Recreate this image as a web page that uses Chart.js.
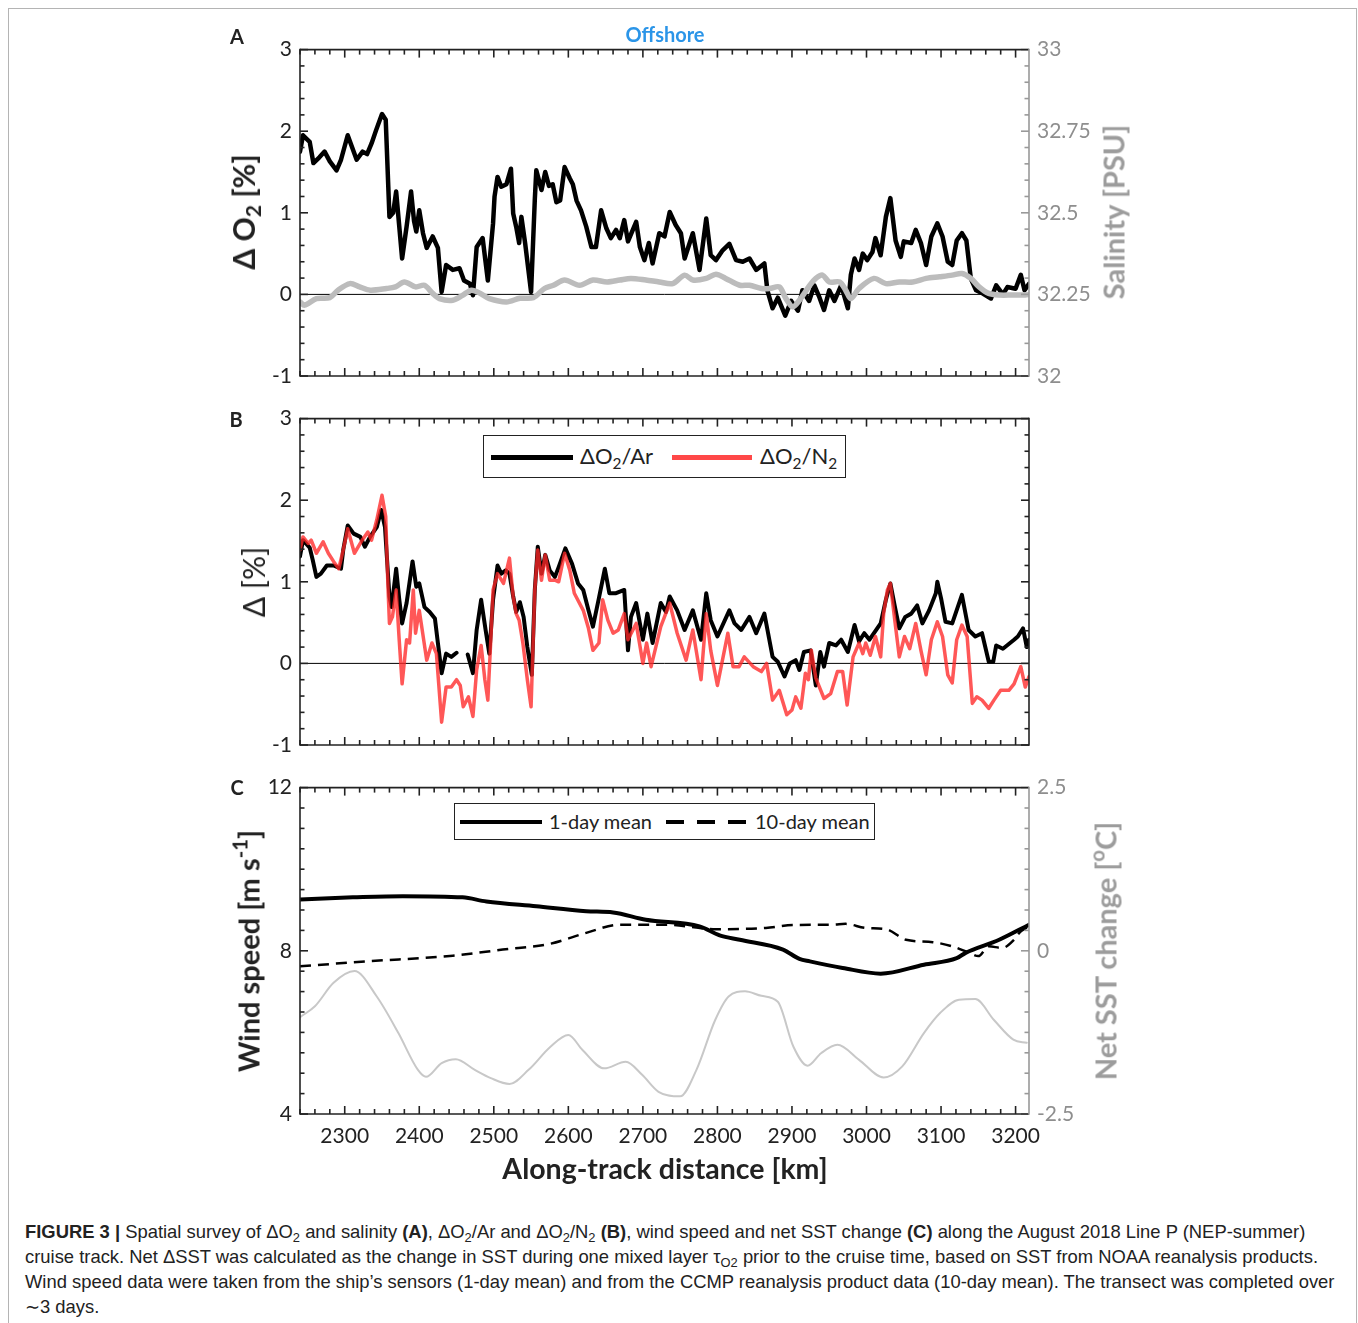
<!DOCTYPE html>
<html>
<head>
<meta charset="utf-8">
<script src="https://cdn.jsdelivr.net/npm/chart.js@4.4.1/dist/chart.umd.min.js"></script>
<style>
  body { margin: 0; width: 1358px; height: 1323px; background: #fff; position: relative; overflow: hidden; font-family: Lato, "DejaVu Sans", sans-serif; color: #222; }
  canvas { position: absolute; }
  .frame { position: absolute; left: 8px; top: 8px; width: 1347px; height: 1340px; border: 1px solid #b4b4b4; }
  .txt { position: absolute; white-space: nowrap; transform: translate(-50%, -50%); }
  .ytitle { position: absolute; white-space: nowrap; transform: translate(-50%, -50%) rotate(-90deg); font-weight: 700; font-size: 29px; }
  .letter { font-weight: 700; font-size: 20px; }
  sub, sup { font-size: 0.7em; line-height: 0; }
  sub { vertical-align: -0.3em; }
  sup { vertical-align: 0.6em; }
  .legend { position: absolute; background: #fff; border: 1.5px solid #222; box-sizing: border-box; z-index: 5; font-size: 22px; }
  .legend .s { position: absolute; }
  .legend .t { position: absolute; white-space: nowrap; top: 50%; transform: translateY(-55%); }
  .caption { position: absolute; left: 25px; top: 1219px; font-family: "Liberation Sans", Arial, sans-serif; font-size: 18.4px; line-height: 25px; color: #222; }
  .caption div { white-space: nowrap; }
</style>
</head>
<body>
<div class="frame"></div>

<canvas id="chartA" width="960" height="368" style="left:200px; top:29px;"></canvas>
<canvas id="chartB" width="960" height="368" style="left:200px; top:398px;"></canvas>
<canvas id="chartC" width="960" height="393" style="left:200px; top:767px;"></canvas>

<!-- panel letters and titles -->
<div class="txt letter" style="left:237px; top:36px;">A</div>
<div class="txt letter" style="left:236px; top:419px;">B</div>
<div class="txt letter" style="left:237px; top:787px;">C</div>
<div class="txt" style="left:665px; top:34px; font-weight:700; font-size:20px; color:#2b95e8;">Offshore</div>

<div class="ytitle" style="left:243px; top:212px; font-size:30px;">Δ O<sub>2</sub> [%]</div>
<div class="ytitle" style="left:1113px; top:212px; color:#9c9c9c;">Salinity [PSU]</div>
<div class="ytitle" style="left:253px; top:582px; font-weight:400; font-size:30px;">Δ [%]</div>
<div class="ytitle" style="left:248px; top:951px;">Wind speed [m s<sup>-1</sup>]</div>
<div class="ytitle" style="left:1105px; top:951px; color:#9c9c9c;">Net SST change [<sup>o</sup>C]</div>
<div class="txt" style="left:665px; top:1168px; font-weight:700; font-size:28.5px;">Along-track distance [km]</div>

<!-- legends -->
<div class="legend" style="left:483px; top:435px; width:363px; height:43px;">
  <span class="s" style="left:7px; top:19px; width:82px; height:5px; background:#000;"></span>
  <span class="t" style="left:96px;">ΔO<sub>2</sub>/Ar</span>
  <span class="s" style="left:188px; top:19px; width:80px; height:5px; background:#ff4848;"></span>
  <span class="t" style="left:276px;">ΔO<sub>2</sub>/N<sub>2</sub></span>
</div>
<div class="legend" style="left:454px; top:803px; width:421px; height:37px; font-size:20px;">
  <span class="s" style="left:5px; top:16px; width:82px; height:4px; background:#000;"></span>
  <span class="t" style="left:94px;">1-day mean</span>
  <span class="s" style="left:211px; top:16px; width:80px; height:4px; background:repeating-linear-gradient(to right, #000 0 18px, transparent 18px 31px);"></span>
  <span class="t" style="left:300px;">10-day mean</span>
</div>

<div class="caption">
  <div><b>FIGURE 3 |</b> Spatial survey of ΔO<sub>2</sub> and salinity <b>(A)</b>, ΔO<sub>2</sub>/Ar and ΔO<sub>2</sub>/N<sub>2</sub> <b>(B)</b>, wind speed and net SST change <b>(C)</b> along the August 2018 Line P (NEP-summer)</div>
  <div>cruise track. Net ΔSST was calculated as the change in SST during one mixed layer τ<sub>O2</sub> prior to the cruise time, based on SST from NOAA reanalysis products.</div>
  <div>Wind speed data were taken from the ship’s sensors (1-day mean) and from the CCMP reanalysis product data (10-day mean). The transect was completed over</div>
  <div>∼3 days.</div>
</div>

<script>
// --- axes ---
const xMin = 2240, xMax = 3218;
const xTickLabels = [2300, 2400, 2500, 2600, 2700, 2800, 2900, 3000, 3100, 3200];
const deltaTicks = [-1, 0, 1, 2, 3];
const salinityTicks = [32, 32.25, 32.5, 32.75, 33];
const windTicks = [4, 8, 12];
const sstTicks = [-2.5, 0, 2.5];

// --- panel A: delta O2 (%) and salinity ---
const kmO2 = [2240,2244,2253,2258,2266,2273,2280,2289,2295,2304,2310,2316,2324,2330,2336,2342,2350,2355,2360,2365,
  2369,2373,2377,2383,2389,2393,2396,2400,2405,2410,2418,2425,2430,2436,2445,2454,2460,2468,2472,2477,
  2485,2492,2499,2501,2505,2510,2517,2523,2526,2530,2534,2537,2542,2550,2555,2557,2564,2569,2574,2579,
  2584,2589,2595,2602,2606,2611,2617,2624,2631,2637,2644,2651,2657,2664,2669,2675,2680,2691,2696,2702,
  2708,2713,2722,2729,2736,2744,2751,2756,2767,2776,2785,2791,2798,2807,2816,2825,2834,2843,2852,2863,
  2867,2874,2881,2891,2899,2908,2914,2923,2930,2937,2943,2950,2957,2966,2975,2979,2984,2990,2995,3001,
  3008,3012,3019,3026,3032,3039,3046,3050,3060,3066,3073,3080,3087,3095,3102,3109,3115,3121,3128,3134,
  3140,3147,3156,3167,3174,3183,3189,3200,3207,3212,3218];
const deltaO2 = [1.75,1.95,1.87,1.61,1.68,1.75,1.63,1.52,1.65,1.95,1.80,1.65,1.75,1.72,1.85,2.01,2.21,2.14,0.95,1.00,
  1.26,0.85,0.44,0.83,1.26,0.90,0.77,1.03,0.75,0.57,0.71,0.57,0.03,0.36,0.30,0.32,0.17,0.13,-0.01,0.58,
  0.69,0.17,0.87,1.20,1.44,1.32,1.35,1.54,0.99,0.83,0.63,0.95,0.63,0.03,1.16,1.52,1.28,1.50,1.33,1.35,
  1.13,1.15,1.56,1.42,1.35,1.15,1.03,0.83,0.58,0.58,1.03,0.81,0.69,0.79,0.69,0.91,0.65,0.89,0.58,0.42,
  0.63,0.38,0.75,0.71,1.01,0.85,0.75,0.44,0.75,0.30,0.93,0.48,0.42,0.54,0.62,0.42,0.40,0.44,0.30,0.38,
  0.05,-0.17,-0.04,-0.26,-0.08,-0.20,0.05,-0.08,0.11,-0.04,-0.19,0.05,-0.08,0.11,-0.17,0.24,0.44,0.30,0.50,0.42,
  0.52,0.69,0.48,0.95,1.18,0.66,0.46,0.65,0.63,0.79,0.63,0.36,0.71,0.87,0.71,0.40,0.36,0.66,0.75,0.66,
  0.19,0.05,0.01,-0.05,0.11,0.00,0.09,0.07,0.24,0.05,0.13];

const kmSal = [2240,2246,2262,2280,2291,2307,2320,2334,2356,2368,2380,2395,2407,2418,2427,2445,2458,2470,2482,2494,
  2517,2535,2553,2568,2580,2595,2615,2633,2652,2669,2684,2704,2722,2740,2756,2767,2785,2798,2811,2830,
  2843,2859,2870,2883,2892,2901,2910,2924,2932,2941,2950,2964,2972,2979,2990,3010,3026,3044,3062,3080,
  3098,3115,3128,3140,3151,3164,3178,3196,3213,3218];
const salinity = [32.227,32.217,32.237,32.240,32.263,32.283,32.273,32.263,32.268,32.273,32.288,32.273,32.278,32.253,32.237,32.232,32.247,32.263,32.253,32.237,
  32.227,32.238,32.240,32.268,32.278,32.294,32.278,32.294,32.288,32.294,32.299,32.294,32.288,32.283,32.309,32.294,32.299,32.312,32.299,32.278,
  32.278,32.268,32.268,32.273,32.237,32.212,32.232,32.278,32.299,32.309,32.288,32.288,32.263,32.237,32.268,32.299,32.283,32.288,32.288,32.299,
  32.304,32.309,32.314,32.299,32.273,32.253,32.248,32.248,32.248,32.250];

// --- panel B: delta O2/Ar and delta O2/N2 (%) ---
const kmAr = [2240,2244,2253,2257,2262,2268,2276,2285,2295,2298,2304,2312,2321,2327,2334,2343,2349,2354,2358,2360,
  2363,2369,2373,2377,2383,2391,2396,2400,2407,2414,2421,2425,2430,2436,2443,2450,2458,2465,2472,2477,
  2483,2489,2494,2499,2505,2510,2516,2521,2526,2530,2535,2540,2545,2551,2555,2559,2564,2569,2575,2582,
  2587,2596,2605,2613,2620,2627,2633,2641,2649,2655,2664,2675,2680,2684,2691,2700,2706,2713,2724,2731,
  2736,2746,2756,2767,2778,2785,2791,2800,2816,2823,2832,2843,2852,2863,2874,2881,2890,2897,2905,2910,
  2916,2925,2932,2938,2943,2950,2959,2966,2975,2984,2990,2997,3004,3013,3019,3026,3032,3038,3044,3052,
  3060,3068,3075,3084,3093,3095,3100,3106,3115,3128,3137,3146,3155,3164,3170,3174,3183,3198,3203,3210,
  3215,3218];
const deltaO2Ar = [1.31,1.51,1.42,1.27,1.06,1.10,1.20,1.20,1.16,1.39,1.69,1.59,1.55,1.43,1.55,1.67,1.88,1.67,1.10,0.82,
  0.69,1.16,0.80,0.49,0.74,1.25,0.94,0.98,0.69,0.63,0.55,0.25,-0.12,0.12,0.08,0.13,null,0.11,-0.12,0.41,
  0.78,0.41,0.12,0.78,1.20,1.10,1.14,1.10,0.82,0.63,0.75,0.57,0.20,-0.14,0.90,1.43,1.10,1.33,1.14,1.06,
  1.18,1.41,1.22,0.98,0.90,0.65,0.45,0.80,1.16,0.86,0.86,0.90,0.16,0.57,0.74,0.29,0.61,0.25,0.74,0.63,
  0.82,0.65,0.41,0.65,0.29,0.86,0.53,0.33,0.65,0.49,0.41,0.57,0.37,0.61,0.08,0.02,-0.16,0.00,0.04,-0.08,
  0.14,0.16,-0.27,0.14,-0.04,0.25,0.22,0.29,0.14,0.47,0.27,0.37,0.29,0.41,0.49,0.78,0.98,0.70,0.43,0.57,
  0.61,0.71,0.49,0.65,0.86,1.00,0.80,0.51,0.49,0.84,0.41,0.33,0.37,0.02,0.02,0.22,0.18,0.29,0.33,0.43,
  0.20,0.29];

const kmN2 = [2240,2244,2251,2255,2262,2271,2278,2285,2292,2298,2304,2313,2322,2331,2336,2343,2350,2355,2358,2360,
  2364,2369,2373,2377,2383,2387,2392,2395,2400,2410,2417,2423,2430,2436,2443,2450,2455,2459,2466,2472,
  2477,2483,2488,2492,2496,2499,2505,2513,2521,2526,2530,2534,2539,2545,2550,2555,2559,2564,2569,2575,
  2582,2587,2595,2602,2608,2620,2627,2633,2641,2646,2653,2660,2667,2675,2680,2691,2700,2705,2711,2724,
  2736,2746,2758,2767,2778,2785,2791,2800,2814,2821,2829,2836,2848,2859,2866,2874,2883,2887,2893,2900,
  2905,2912,2918,2922,2926,2932,2943,2952,2961,2968,2974,2982,2990,2995,2999,3005,3012,3019,3023,3028,
  3032,3039,3044,3051,3058,3066,3073,3080,3087,3095,3102,3109,3115,3121,3128,3135,3142,3148,3155,3164,
  3171,3180,3191,3198,3207,3213,3218];
const deltaO2N2 = [1.39,1.55,1.47,1.51,1.35,1.49,1.35,1.25,1.16,1.39,1.65,1.35,1.49,1.61,1.51,1.76,2.06,1.80,0.94,0.49,
  0.57,0.90,0.30,-0.25,0.29,0.25,0.90,0.37,0.65,0.04,0.25,0.12,-0.72,-0.29,-0.29,-0.20,-0.27,-0.53,-0.41,-0.65,
  -0.08,0.22,-0.20,-0.45,0.29,0.90,1.10,0.98,1.29,0.82,0.61,0.53,0.25,-0.20,-0.53,0.90,1.39,1.02,1.33,1.02,
  1.02,1.00,1.35,1.14,0.86,0.65,0.43,0.16,0.25,0.78,0.53,0.37,0.41,0.61,0.29,0.49,0.00,0.25,-0.04,0.45,
  0.74,0.37,0.04,0.41,-0.20,0.61,0.16,-0.27,0.37,-0.04,-0.04,0.08,-0.04,-0.10,0.00,-0.45,-0.33,-0.45,-0.63,-0.57,
  -0.41,-0.55,-0.12,-0.20,0.16,-0.18,-0.43,-0.37,-0.10,-0.10,-0.51,0.08,0.25,0.12,0.25,0.10,0.33,0.08,0.61,0.90,
  0.98,0.45,0.08,0.33,0.18,0.49,0.16,-0.14,0.29,0.51,0.33,-0.14,-0.24,0.29,0.47,0.33,-0.49,-0.41,-0.45,-0.55,
  -0.45,-0.33,-0.33,-0.25,-0.04,-0.29,-0.16];

// --- panel C: wind speed (m/s) and net SST change (degC) ---
const kmWind1 = [2240,2311,2378,2458,2490,2557,2624,2660,2704,2776,2803,2830,2888,2910,2924,2968,3019,3077,3121,3133,3178,3218];
const wind1day = [9.26,9.31,9.34,9.31,9.21,9.09,8.97,8.94,8.76,8.60,8.38,8.27,8.03,7.80,7.74,7.58,7.44,7.66,7.82,7.95,8.27,8.64];
const kmWind10 = [2240,2329,2445,2512,2575,2624,2669,2731,2798,2865,2901,2955,2972,2999,3026,3053,3089,3115,3138,3150,3164,3182,3198,3205,3218];
const wind10day = [7.62,7.74,7.88,8.03,8.17,8.44,8.64,8.64,8.53,8.56,8.63,8.64,8.66,8.56,8.53,8.27,8.21,8.11,7.95,7.87,8.11,8.07,8.27,8.44,8.60];
const kmSST = [2241,2260,2285,2313,2343,2372,2398,2409,2430,2449,2474,2496,2521,2547,2576,2600,2619,2648,2677,2699,
  2721,2750,2772,2797,2815,2837,2859,2881,2902,2921,2939,2961,2990,3023,3048,3077,3099,3124,3146,3171,3197,3215];
const sstChange = [-1.01,-0.85,-0.49,-0.31,-0.70,-1.26,-1.82,-1.93,-1.72,-1.66,-1.82,-1.95,-2.04,-1.82,-1.47,-1.29,-1.52,-1.80,-1.70,-1.90,
  -2.16,-2.23,-1.82,-1.06,-0.70,-0.62,-0.69,-0.78,-1.47,-1.76,-1.57,-1.44,-1.67,-1.94,-1.77,-1.26,-0.95,-0.75,-0.74,-1.06,-1.36,-1.41];

function pts(xs, ys) {
  return xs.map((x, i) => ({ x: x, y: ys[i] }));
}

Chart.defaults.font.family = 'Lato, "DejaVu Sans", sans-serif';
Chart.defaults.font.size = 21;
Chart.defaults.color = '#222';

// frame and inward tick marks (MATLAB style box)
const frameTicks = {
  id: 'frameTicks',
  afterDatasetsDraw(chart, args, o) {
    const ctx = chart.ctx, a = chart.chartArea;
    const x = chart.scales.x, y = chart.scales.y, y2 = chart.scales.y2;
    ctx.save();
    ctx.lineWidth = 1.6;
    function seg(x1, y1, x2, y2c, c) {
      ctx.strokeStyle = c;
      ctx.beginPath(); ctx.moveTo(x1, y1); ctx.lineTo(x2, y2c); ctx.stroke();
    }
    function steps(scale, minor, major, fn) {
      const n = Math.round((scale.max - scale.min) / minor);
      for (let i = 0; i <= n; i++) {
        const v = scale.min + i * minor;
        const isMajor = Math.abs(v / major - Math.round(v / major)) < 1e-6;
        fn(scale.getPixelForValue(v), isMajor ? 8 : 4.5);
      }
    }
    // x ticks, bottom and top
    for (let v = Math.ceil(x.min / o.xMinor) * o.xMinor; v <= x.max; v += o.xMinor) {
      const px = x.getPixelForValue(v);
      const L = (v % o.xMajor === 0) ? 8 : 5;
      seg(px, a.bottom, px, a.bottom - L, '#222');
      seg(px, a.top, px, a.top + L, '#222');
    }
    // left ticks
    steps(y, o.yMinor, o.yMajor, (py, L) => seg(a.left, py, a.left + L, py, '#222'));
    // right ticks
    if (y2) {
      steps(y2, o.y2Minor, o.y2Major, (py, L) => seg(a.right, py, a.right - L, py, o.rightColor));
    } else {
      steps(y, o.yMinor, o.yMajor, (py, L) => seg(a.right, py, a.right - L, py, o.rightColor));
    }
    // box
    seg(a.left, a.top, a.right, a.top, '#222');
    seg(a.left, a.bottom, a.right, a.bottom, '#222');
    seg(a.left, a.top - 0.8, a.left, a.bottom + 0.8, '#222');
    seg(a.right, a.top - 0.8, a.right, a.bottom + 0.8, o.rightColor);
    ctx.restore();
  }
};

function xScale(showLabels, h) {
  return {
    type: 'linear', min: xMin, max: xMax,
    grid: { display: false, drawTicks: false }, border: { display: false },
    ticks: { display: showLabels, autoSkip: false, maxRotation: 0, padding: 10, color: '#222', callback: v => String(v) },
    afterBuildTicks: s => { s.ticks = xTickLabels.map(v => ({ value: v })); },
    afterFit: s => { s.height = h; }
  };
}
function yScale(pos, min, max, labels, color, w) {
  return {
    type: 'linear', position: pos, min: min, max: max,
    grid: { display: false, drawTicks: false }, border: { display: false },
    ticks: { color: color, padding: 8, callback: v => String(v) },
    afterBuildTicks: s => { s.ticks = labels.map(v => ({ value: v })); },
    afterFit: s => { s.width = w; }
  };
}
function lineSet(data, color, width, extra) {
  return Object.assign({
    data: data, borderColor: color, borderWidth: width, pointRadius: 0,
    borderJoinStyle: 'round', borderCapStyle: 'round', tension: 0, fill: false
  }, extra || {});
}
const common = {
  responsive: false, animation: false, parsing: true,
  plugins: { legend: { display: false }, tooltip: { enabled: false } }
};

// Panel A
new Chart(document.getElementById('chartA'), {
  type: 'line',
  data: { datasets: [
    lineSet(pts([xMin, xMax], [0, 0]), '#000', 1, { order: 3 }),
    lineSet(pts(kmO2, deltaO2), '#000', 4.5, { order: 2 }),
    lineSet(pts(kmSal, salinity), '#bcbcbc', 5.5, { order: 1, yAxisID: 'y2', tension: 0.3 })
  ] },
  options: Object.assign({}, common, {
    layout: { padding: 0 },
    scales: {
      x: xScale(false, 21),
      y: yScale('left', -1, 3, deltaTicks, '#222', 100),
      y2: yScale('right', 32, 33, salinityTicks, '#8e8e8e', 131)
    },
    plugins: Object.assign({}, common.plugins, {
      frameTicks: { xMinor: 20, xMajor: 100, yMinor: 0.2, yMajor: 1, y2Minor: 0.05, y2Major: 0.25, rightColor: '#999' }
    })
  }),
  plugins: [frameTicks]
});

// Panel B
new Chart(document.getElementById('chartB'), {
  type: 'line',
  data: { datasets: [
    lineSet(pts([xMin, xMax], [0, 0]), '#000', 1, { order: 3 }),
    lineSet(pts(kmAr, deltaO2Ar), '#000', 4, { order: 2, spanGaps: false }),
    lineSet(pts(kmN2, deltaO2N2), 'rgba(255,40,40,0.78)', 3.5, { order: 1 })
  ] },
  options: Object.assign({}, common, {
    layout: { padding: { top: 0, right: 131, left: 0, bottom: 0 } },
    scales: {
      x: xScale(false, 21),
      y: yScale('left', -1, 3, deltaTicks, '#222', 100)
    },
    plugins: Object.assign({}, common.plugins, {
      frameTicks: { xMinor: 20, xMajor: 100, yMinor: 0.2, yMajor: 1, rightColor: '#222' }
    })
  }),
  plugins: [frameTicks]
});

// Panel C
new Chart(document.getElementById('chartC'), {
  type: 'line',
  data: { datasets: [
    lineSet(pts(kmSST, sstChange), '#c8c8c8', 2, { order: 3, yAxisID: 'y2', cubicInterpolationMode: 'monotone' }),
    lineSet(pts(kmWind10, wind10day), '#000', 2.5, { order: 2, borderDash: [11, 7], borderCapStyle: 'butt', cubicInterpolationMode: 'monotone' }),
    lineSet(pts(kmWind1, wind1day), '#000', 4, { order: 1, cubicInterpolationMode: 'monotone' })
  ] },
  options: Object.assign({}, common, {
    layout: { padding: 0 },
    scales: {
      x: xScale(true, 46),
      y: yScale('left', 4, 12, windTicks, '#222', 100),
      y2: yScale('right', -2.5, 2.5, sstTicks, '#8e8e8e', 131)
    },
    plugins: Object.assign({}, common.plugins, {
      frameTicks: { xMinor: 20, xMajor: 100, yMinor: 0.5, yMajor: 4, y2Minor: 0.3125, y2Major: 2.5, rightColor: '#999' }
    })
  }),
  plugins: [frameTicks]
});
</script>
</body>
</html>
